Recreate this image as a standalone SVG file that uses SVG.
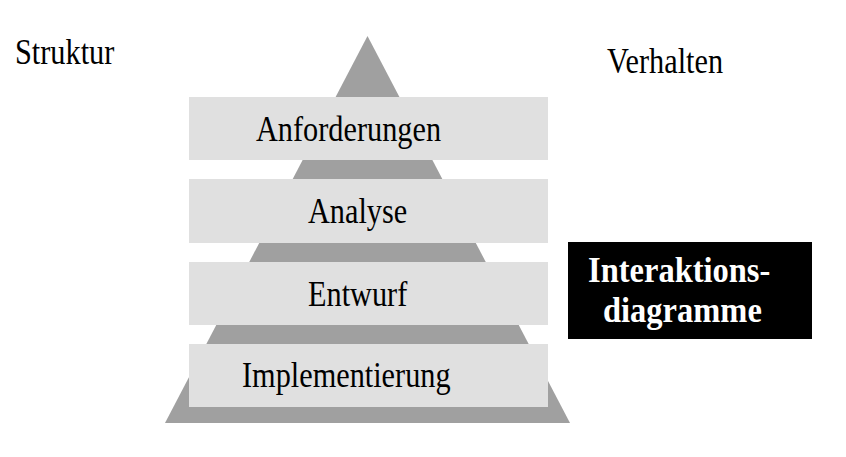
<svg xmlns="http://www.w3.org/2000/svg" width="846" height="457" viewBox="0 0 846 457">
<style>
.t{font-family:"Liberation Serif","Times New Roman",serif;font-size:30.3px;fill:#000}
.b{font-family:"Liberation Serif","Times New Roman",serif;font-size:32.5px;font-weight:bold;fill:#fff}
.band{fill:#e0e0e0}
</style>
<rect width="846" height="457" fill="#fff"/>
<g id="pyramid">
<polygon points="367.5,36 165,423 570,423" fill="#a0a0a0"/>
</g>
<g id="anforderungen">
<rect class="band" x="189" y="97" width="359" height="63"/>
<text class="t" transform="translate(256,141) scale(1,1.2)">Anforderungen</text>
</g>
<g id="analyse">
<rect class="band" x="189" y="179" width="359" height="64"/>
<text class="t" transform="translate(308,223) scale(1,1.2)">Analyse</text>
</g>
<g id="entwurf">
<rect class="band" x="189" y="262" width="359" height="63"/>
<text class="t" transform="translate(308,306) scale(1,1.2)">Entwurf</text>
</g>
<g id="implementierung">
<rect class="band" x="189" y="344" width="359" height="63"/>
<text class="t" transform="translate(242,387) scale(1,1.2)">Implementierung</text>
</g>
<g id="struktur">
<text class="t" transform="translate(15,64) scale(1,1.2)">Struktur</text>
</g>
<g id="verhalten">
<text class="t" transform="translate(607,73) scale(1,1.2)">Verhalten</text>
</g>
<g id="interaktionsdiagramme">
<rect x="568" y="242" width="244" height="97" fill="#000"/>
<text class="b" transform="translate(588,282) scale(1,1.12)">Interaktions-</text>
<text class="b" transform="translate(603,322) scale(1,1.12)">diagramme</text>
</g>
<g id="connectors"></g>
</svg>
